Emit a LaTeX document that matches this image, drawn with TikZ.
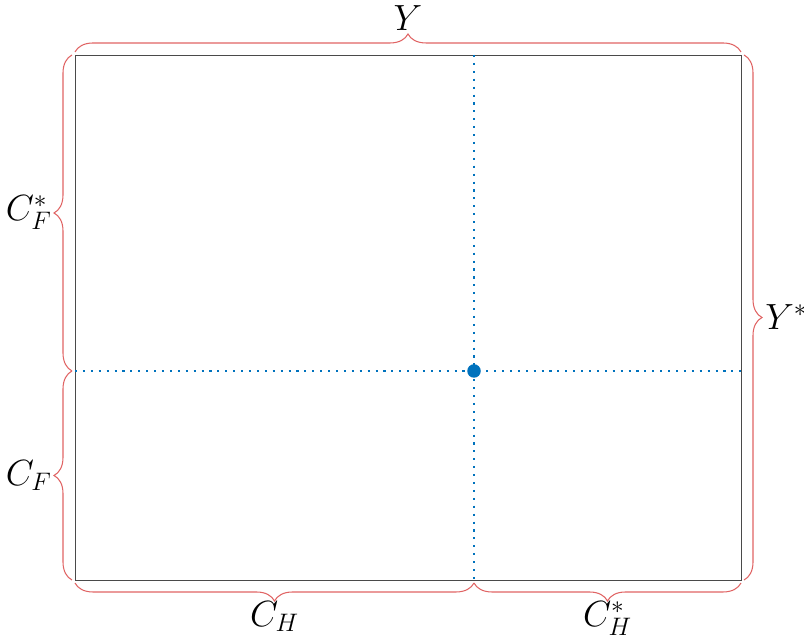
\documentclass[tikz,border=0pt]{standalone}
\usetikzlibrary{decorations.pathreplacing, calc}
\definecolor{cbrace}{HTML}{E06464}
\definecolor{cblue}{HTML}{0072BD}
\definecolor{cframe}{HTML}{4A4A4A}
\tikzset{
  every picture/.style={line width=0.6pt},
  brace/.style={decorate, decoration={brace, amplitude=0.36cm, raise=0.06cm}, draw=cbrace, line width=0.6pt},
  lbl/.style={font=\huge, inner sep=1pt},
  guide/.style={draw=cblue, line width=1.2pt, dash pattern=on 1.2pt off 3.3pt},
  eqdot/.style={circle, fill=cblue, minimum size=0.27cm, inner sep=0pt},
}

\begin{document}
\begin{tikzpicture}
  \useasboundingbox (-1.5,-1.2) rectangle (14.58,11.6);
  % frame corners and the point where the guides cross
  \coordinate (SW) at (0,0);
  \coordinate (SE) at (13.32,0);
  \coordinate (NE) at (13.32,10.5);
  \coordinate (NW) at (0,10.5);
  \coordinate (eq) at (7.98,4.18);
  \coordinate (top) at (eq |- NW);
  \coordinate (bot) at (eq |- SW);
  \coordinate (lft) at (eq -| SW);
  \coordinate (rgt) at (eq -| SE);
  \draw[cframe, line width=0.5pt] (SW) rectangle (NE);
  % dotted guides
  \draw[guide] (top) -- (bot);
  \draw[guide] (lft) -- (rgt);
  \node[eqdot] (pt) at (eq) {};
  % braces
  \draw[brace] (NW) -- (NE) node[lbl, midway, above=0.44cm] (lY) {$Y$};
  \draw[brace] (NE) -- (SE) node[lbl, midway, right=0.44cm] (lYs) {$Y^*$};
  \draw[brace] (SW) -- (lft) node[lbl, midway, left=0.42cm] (lCF) {$C_F$};
  \draw[brace] (lft) -- (NW) node[lbl, midway, left=0.42cm] (lCFs) {$C_F^*$};
  \draw[brace] (bot) -- (SW) node[lbl, midway, below=0.38cm] (lCH) {$C_H$};
  \draw[brace] (SE) -- (bot) node[lbl, midway, below=0.38cm] (lCHs) {$C_H^*$};
\end{tikzpicture}
\end{document}
